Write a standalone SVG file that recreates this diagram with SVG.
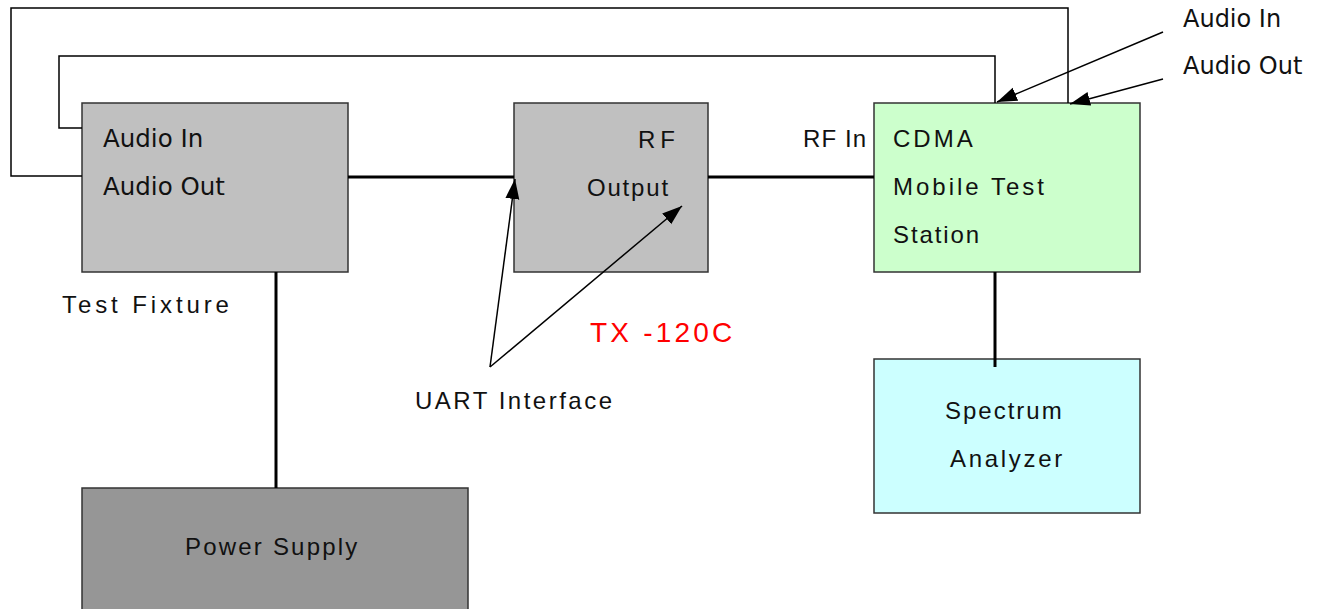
<svg xmlns="http://www.w3.org/2000/svg" width="1319" height="609" viewBox="0 0 1319 609">
<style>
.box{stroke:#333;stroke-width:1.5}
.t{font-family:"Liberation Sans",Arial,sans-serif;font-size:24px;fill:#111}
.d{font-family:"DejaVu Sans",sans-serif;font-size:24px;fill:#111}
.thin{fill:none;stroke:#000;stroke-width:1.5}
.thick{fill:none;stroke:#000;stroke-width:3}
.arr{fill:none;stroke:#000;stroke-width:1.5;marker-end:url(#ah)}
</style>
<defs>
<marker id="ah" markerUnits="userSpaceOnUse" markerWidth="22" markerHeight="16" refX="20" refY="7" orient="auto">
<path d="M0,0 L20,7 L0,14 z" fill="#000"/>
</marker>
</defs>
<rect width="1319" height="609" fill="#fff"/>
<g id="test-fixture">
<rect class="box" x="82" y="103" width="266" height="169" fill="#c0c0c0"/>
<text class="d" x="103" y="147" style="font-size:24.5px">Audio In</text>
<text class="d" x="103" y="195" style="font-size:24.5px">Audio Out</text>
<text class="t" x="62" y="313" letter-spacing="3.9">Test Fixture</text>
</g>
<g id="tx-120c">
<rect class="box" x="514" y="103" width="194" height="169" fill="#c0c0c0"/>
<text class="t" x="638" y="148" letter-spacing="5">RF</text>
<text class="t" x="587" y="196" letter-spacing="1.8">Output</text>
<text class="t" x="590" y="342" style="font-size:28px;fill:#ff0000" letter-spacing="3.2">TX -120C</text>
</g>
<g id="cdma">
<rect class="box" x="874" y="103" width="266" height="169" fill="#ccffcc"/>
<text class="t" x="803" y="147" letter-spacing="1.1">RF In</text>
<text class="t" x="893" y="147" letter-spacing="3">CDMA</text>
<text class="t" x="893" y="195" letter-spacing="3">Mobile Test</text>
<text class="t" x="893" y="243" letter-spacing="1.9">Station</text>
<text class="d" x="1183" y="27">Audio In</text>
<text class="d" x="1183" y="74">Audio Out</text>
</g>
<g id="uart">
<text class="t" x="415" y="409" letter-spacing="2.5">UART Interface</text>
</g>
<g id="spectrum-analyzer">
<rect class="box" x="874" y="359" width="266" height="154" fill="#ccffff"/>
<text class="t" x="945" y="419" letter-spacing="2">Spectrum</text>
<text class="t" x="950" y="467" letter-spacing="2.7">Analyzer</text>
</g>
<g id="power-supply">
<rect class="box" x="82" y="488" width="386" height="130" fill="#969696"/>
<text class="t" x="185" y="555" letter-spacing="2.2">Power Supply</text>
</g>
<g id="connectors">
<polyline class="thin" points="82,176 11,176 11,8 1068,8 1068,103"/>
<polyline class="thin" points="82,128 59,128 59,56 995,56 995,103"/>
<line class="thick" x1="348" y1="177" x2="514" y2="177"/>
<line class="thick" x1="708" y1="177" x2="874" y2="177"/>
<line class="thick" x1="276" y1="272" x2="276" y2="488"/>
<line class="thick" x1="995" y1="272" x2="995" y2="367"/>
<line class="arr" x1="1163" y1="32" x2="997" y2="102"/>
<line class="arr" x1="1163" y1="79" x2="1070" y2="104"/>
<line class="arr" x1="490" y1="367" x2="515" y2="179"/>
<line class="arr" x1="490" y1="367" x2="682" y2="206"/>
</g>
</svg>
